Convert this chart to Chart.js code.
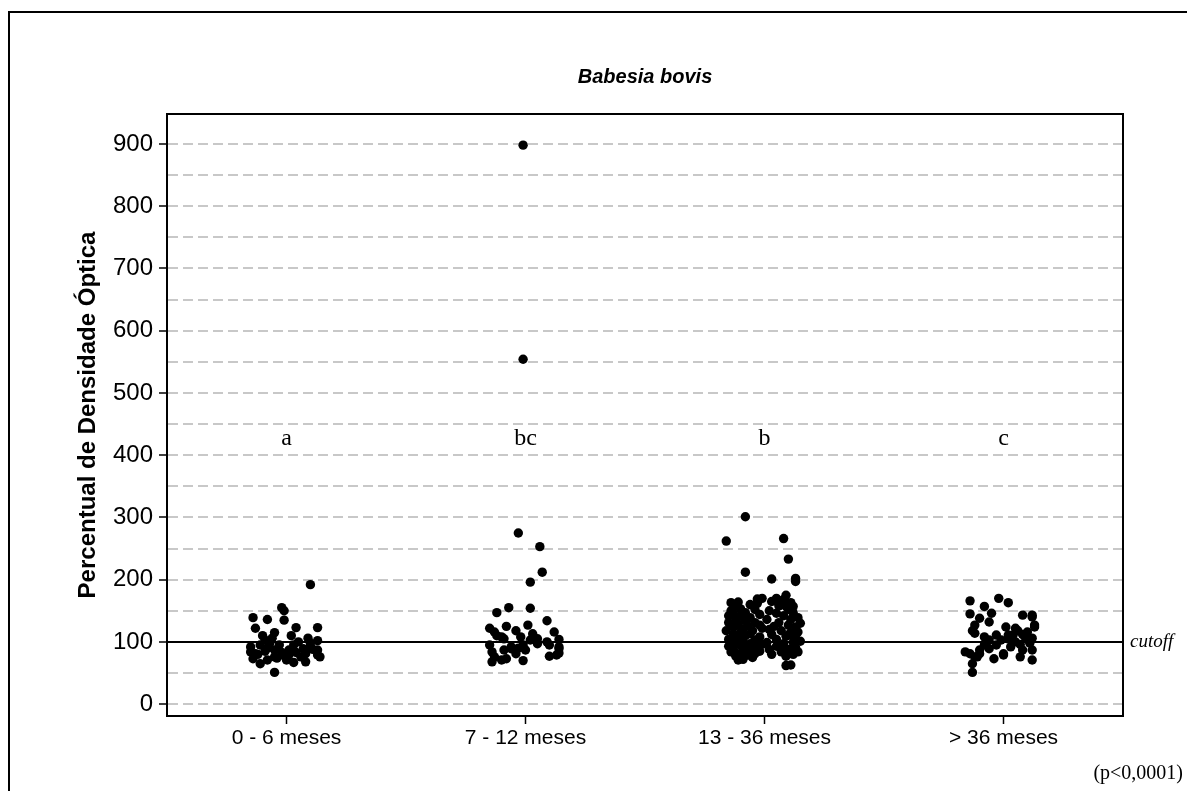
<!DOCTYPE html>
<html>
<head>
<meta charset="utf-8">
<script src="https://cdn.jsdelivr.net/npm/chart.js@4.4.1/dist/chart.umd.min.js"></script>
<style>
  html, body { margin: 0; background: #fff; }
  canvas { display: block; }
</style>
</head>
<body>
<canvas id="grafico" width="1187" height="791"></canvas>
<script>
// categorias e letras de significância
const categorias = ['0 - 6 meses', '7 - 12 meses', '13 - 36 meses', '> 36 meses'];
const letras = ['a', 'bc', 'b', 'c'];
const alturaLetras = 427;
const cutoff = 100;
const ticksY = [0, 50, 100, 150, 200, 250, 300, 350, 400, 450, 500, 550, 600, 650, 700, 750, 800, 850, 900];

// 0 - 6 meses
const valores1 = [192, 155, 150, 139, 136, 135, 122, 123, 123, 115, 110, 106, 106, 98, 98, 84, 81, 85, 87, 83, 87, 83, 89, 92, 87, 76, 73, 65, 71, 74, 71, 67, 76, 51, 92, 95, 95, 95, 79, 79, 81, 103, 100, 76, 80, 102, 90, 68, 110, 88, 78];
const desvio1 = [0.10, -0.02, -0.01, -0.14, -0.08, -0.01, -0.13, 0.04, 0.13, -0.05, -0.10, -0.06, 0.09, -0.07, 0.10, -0.15, -0.13, -0.09, -0.05, -0.02, 0.01, 0.04, 0.07, 0.10, 0.13, 0.14, -0.14, -0.11, -0.08, -0.04, 0.00, 0.03, 0.06, -0.05, -0.15, -0.11, -0.03, 0.03, 0.13, 0.01, 0.08, -0.09, 0.05, -0.05, -0.12, 0.13, -0.08, 0.08, 0.02, 0.11, -0.01];

// 7 - 12 meses
const valores2 = [898, 554, 275, 253, 212, 196, 147, 155, 154, 134, 122, 125, 127, 116, 118, 108, 108, 113, 116, 105, 103, 105, 100, 104, 95, 92, 95, 95, 84, 87, 89, 87, 89, 76, 71, 73, 68, 70, 77, 79, 82, 81, 90, 92, 110, 97];
const desvio2 = [-0.01, -0.01, -0.03, 0.06, 0.07, 0.02, -0.12, -0.07, 0.02, 0.09, -0.15, -0.08, 0.01, -0.13, -0.04, -0.10, -0.02, 0.03, 0.12, -0.09, 0.02, 0.05, 0.09, 0.14, -0.15, -0.06, -0.01, 0.10, -0.14, -0.09, -0.06, 0.00, 0.14, -0.13, -0.10, -0.08, -0.14, -0.01, 0.10, 0.13, 0.14, -0.04, -0.03, 0.14, -0.12, 0.05];

// 13 - 36 meses
const valores3 = [301, 262, 266, 233, 212, 201, 202, 197, 175, 163, 164, 169, 170, 170, 157, 62, 63, 71,
  150, 142, 131, 118, 104, 93, 84, 158, 146, 137, 124, 112, 99, 88, 77, 153, 141, 128, 116, 107, 95, 82, 72,
  147, 134, 121, 110, 101, 90, 79, 160, 139, 126, 113, 97, 86, 75, 152, 131, 118, 103, 92, 81, 144, 127, 108, 96, 85, 162, 122,
  99, 88, 136, 150, 165, 112, 80, 125, 146, 104, 93, 158, 131, 84, 118, 168, 142, 97, 77, 109, 152, 127, 88, 163, 136, 115,
  99, 80, 147, 124, 106, 91, 139, 116, 84, 101, 130, 111, 94, 157, 120];
const desvio3 = [-0.08, -0.16, 0.08, 0.10, -0.08, 0.03, 0.13, 0.13, 0.09, -0.14, -0.11, -0.03, -0.01, 0.05, 0.12, 0.09, 0.11, -0.11,
  -0.14, -0.15, -0.15, -0.16, -0.15, -0.15, -0.14, -0.12, -0.13, -0.12, -0.13, -0.13, -0.12, -0.13, -0.12, -0.10, -0.10, -0.11, -0.10, -0.11, -0.10, -0.10, -0.09,
  -0.08, -0.08, -0.09, -0.08, -0.09, -0.08, -0.07, -0.06, -0.06, -0.07, -0.06, -0.06, -0.06, -0.05, -0.04, -0.04, -0.05, -0.04, -0.03, -0.04, -0.02, -0.02, -0.02, -0.01, -0.02, -0.03, -0.01,
  0.01, 0.02, 0.01, 0.02, 0.03, 0.03, 0.03, 0.04, 0.05, 0.05, 0.05, 0.06, 0.06, 0.07, 0.07, 0.08, 0.08, 0.08, 0.09, 0.09, 0.10, 0.10, 0.10, 0.11, 0.11, 0.11,
  0.12, 0.12, 0.12, 0.13, 0.13, 0.13, 0.14, 0.14, 0.14, 0.15, 0.15, 0.10, 0.07, 0.09, 0.02];

// > 36 meses
const valores4 = [166, 170, 163, 157, 145, 138, 146, 132, 143, 127, 118, 124, 122, 111, 108, 84, 81, 76, 81, 65, 51, 73, 81, 95, 103, 140, 124, 114, 111, 111, 108, 106, 100, 103, 100, 98, 87, 89, 92, 87, 87, 76, 79, 76, 71, 95, 116, 127, 143, 118, 105, 112, 96];
const desvio4 = [-0.14, -0.02, 0.02, -0.08, -0.14, -0.10, -0.05, -0.06, 0.08, -0.12, -0.13, 0.01, 0.05, -0.03, -0.08, -0.16, -0.14, -0.12, -0.10, -0.13, -0.13, -0.04, 0.00, -0.08, -0.06, 0.12, 0.13, -0.12, 0.02, 0.04, 0.09, 0.12, -0.07, -0.01, 0.05, 0.11, -0.10, -0.06, 0.03, 0.08, 0.12, -0.11, 0.00, 0.07, 0.12, -0.03, 0.10, 0.13, 0.12, 0.06, 0.02, 0.08, 0.07];

const grupos = [[valores1, desvio1], [valores2, desvio2], [valores3, desvio3], [valores4, desvio4]];

const pontos = grupos.map(([valores, desvio], i) =>
  valores.map((v, k) => ({ x: i + 1 + desvio[k], y: v }))
);

const fonteSans = '"Liberation Sans", Arial, sans-serif';
const fonteSerif = '"Liberation Serif", "Times New Roman", serif';

const decoracao = {
  id: 'decoracao',
  beforeDraw(chart) {
    const ctx = chart.ctx;
    ctx.save();
    ctx.fillStyle = '#fff';
    ctx.fillRect(0, 0, chart.width, chart.height);
    // moldura externa da figura
    ctx.strokeStyle = '#000';
    ctx.lineWidth = 2;
    ctx.beginPath();
    ctx.moveTo(9, chart.height);
    ctx.lineTo(9, 12);
    ctx.lineTo(chart.width, 12);
    ctx.stroke();
    ctx.restore();
  },
  afterDraw(chart) {
    const ctx = chart.ctx;
    const area = chart.chartArea;
    const x = chart.scales.x;
    const y = chart.scales.y;
    ctx.save();
    ctx.strokeStyle = '#000';
    ctx.lineWidth = 2;
    ctx.strokeRect(area.left, area.top, area.right - area.left, area.bottom - area.top);

    // título
    ctx.fillStyle = '#000';
    ctx.textAlign = 'center';
    ctx.textBaseline = 'middle';
    ctx.font = 'bold italic 20px ' + fonteSans;
    ctx.fillText('Babesia bovis', (area.left + area.right) / 2, 77);

    // letras
    ctx.font = '24px ' + fonteSerif;
    letras.forEach((l, i) => {
      ctx.fillText(l, x.getPixelForValue(i + 1), y.getPixelForValue(alturaLetras));
    });

    // cutoff
    ctx.textAlign = 'left';
    ctx.font = 'italic 19px ' + fonteSerif;
    ctx.fillText('cutoff', area.right + 7, y.getPixelForValue(cutoff));

    // p valor
    ctx.textAlign = 'right';
    ctx.font = '20px ' + fonteSerif;
    ctx.fillText('(p<0,0001)', chart.width - 4, 774);
    ctx.restore();
  }
};

const ctx = document.getElementById('grafico').getContext('2d');
new Chart(ctx, {
  type: 'scatter',
  data: {
    datasets: [
      ...pontos.map((d, i) => ({
        label: categorias[i],
        data: d,
        backgroundColor: '#000',
        borderColor: '#000',
        pointRadius: 4.7,
        pointBorderWidth: 0,
        order: 0
      })),
      {
        type: 'line',
        label: 'cutoff',
        data: [{ x: 0.5, y: cutoff }, { x: 4.5, y: cutoff }],
        borderColor: '#000',
        borderWidth: 2,
        pointRadius: 0,
        order: 10
      }
    ]
  },
  options: {
    responsive: false,
    animation: false,
    events: [],
    layout: { padding: { top: 114, right: 64, bottom: 0, left: 0 } },
    plugins: {
      legend: { display: false },
      tooltip: { enabled: false },
      title: { display: false }
    },
    scales: {
      x: {
        type: 'linear',
        min: 0.5,
        max: 4.5,
        afterBuildTicks: scale => { scale.ticks = categorias.map((c, i) => ({ value: i + 1 })); },
        afterFit: scale => { scale.height = 75; },
        ticks: {
          callback: v => categorias[v - 1],
          color: '#000',
          font: { family: fonteSans, size: 21 },
          padding: 2,
          maxRotation: 0,
          autoSkip: false
        },
        grid: { drawOnChartArea: false, tickLength: 8, tickColor: '#000', tickWidth: 1.5 },
        border: { color: '#000', width: 2 }
      },
      y: {
        min: -19,
        max: 948,
        afterBuildTicks: scale => { scale.ticks = ticksY.map(v => ({ value: v })); },
        afterFit: scale => { scale.width = 167; },
        ticks: {
          callback: v => (v % 100 === 0 ? v : ''),
          color: '#000',
          font: { family: fonteSans, size: 24 },
          padding: 6,
          autoSkip: false
        },
        grid: {
          color: '#c8c8c8',
          lineWidth: 2,
          tickLength: 8,
          tickWidth: 1.5,
          tickColor: c => (c.tick && c.tick.value % 100 === 0 ? '#000' : 'rgba(0,0,0,0)')
        },
        border: { color: '#000', width: 2, dash: [10, 5] },
        title: {
          display: true,
          text: 'Percentual de Densidade Óptica',
          color: '#000',
          font: { family: fonteSans, size: 24, weight: 'bold' },
          padding: { top: 74, bottom: 0 }
        }
      }
    }
  },
  plugins: [decoracao]
});
</script>
</body>
</html>
